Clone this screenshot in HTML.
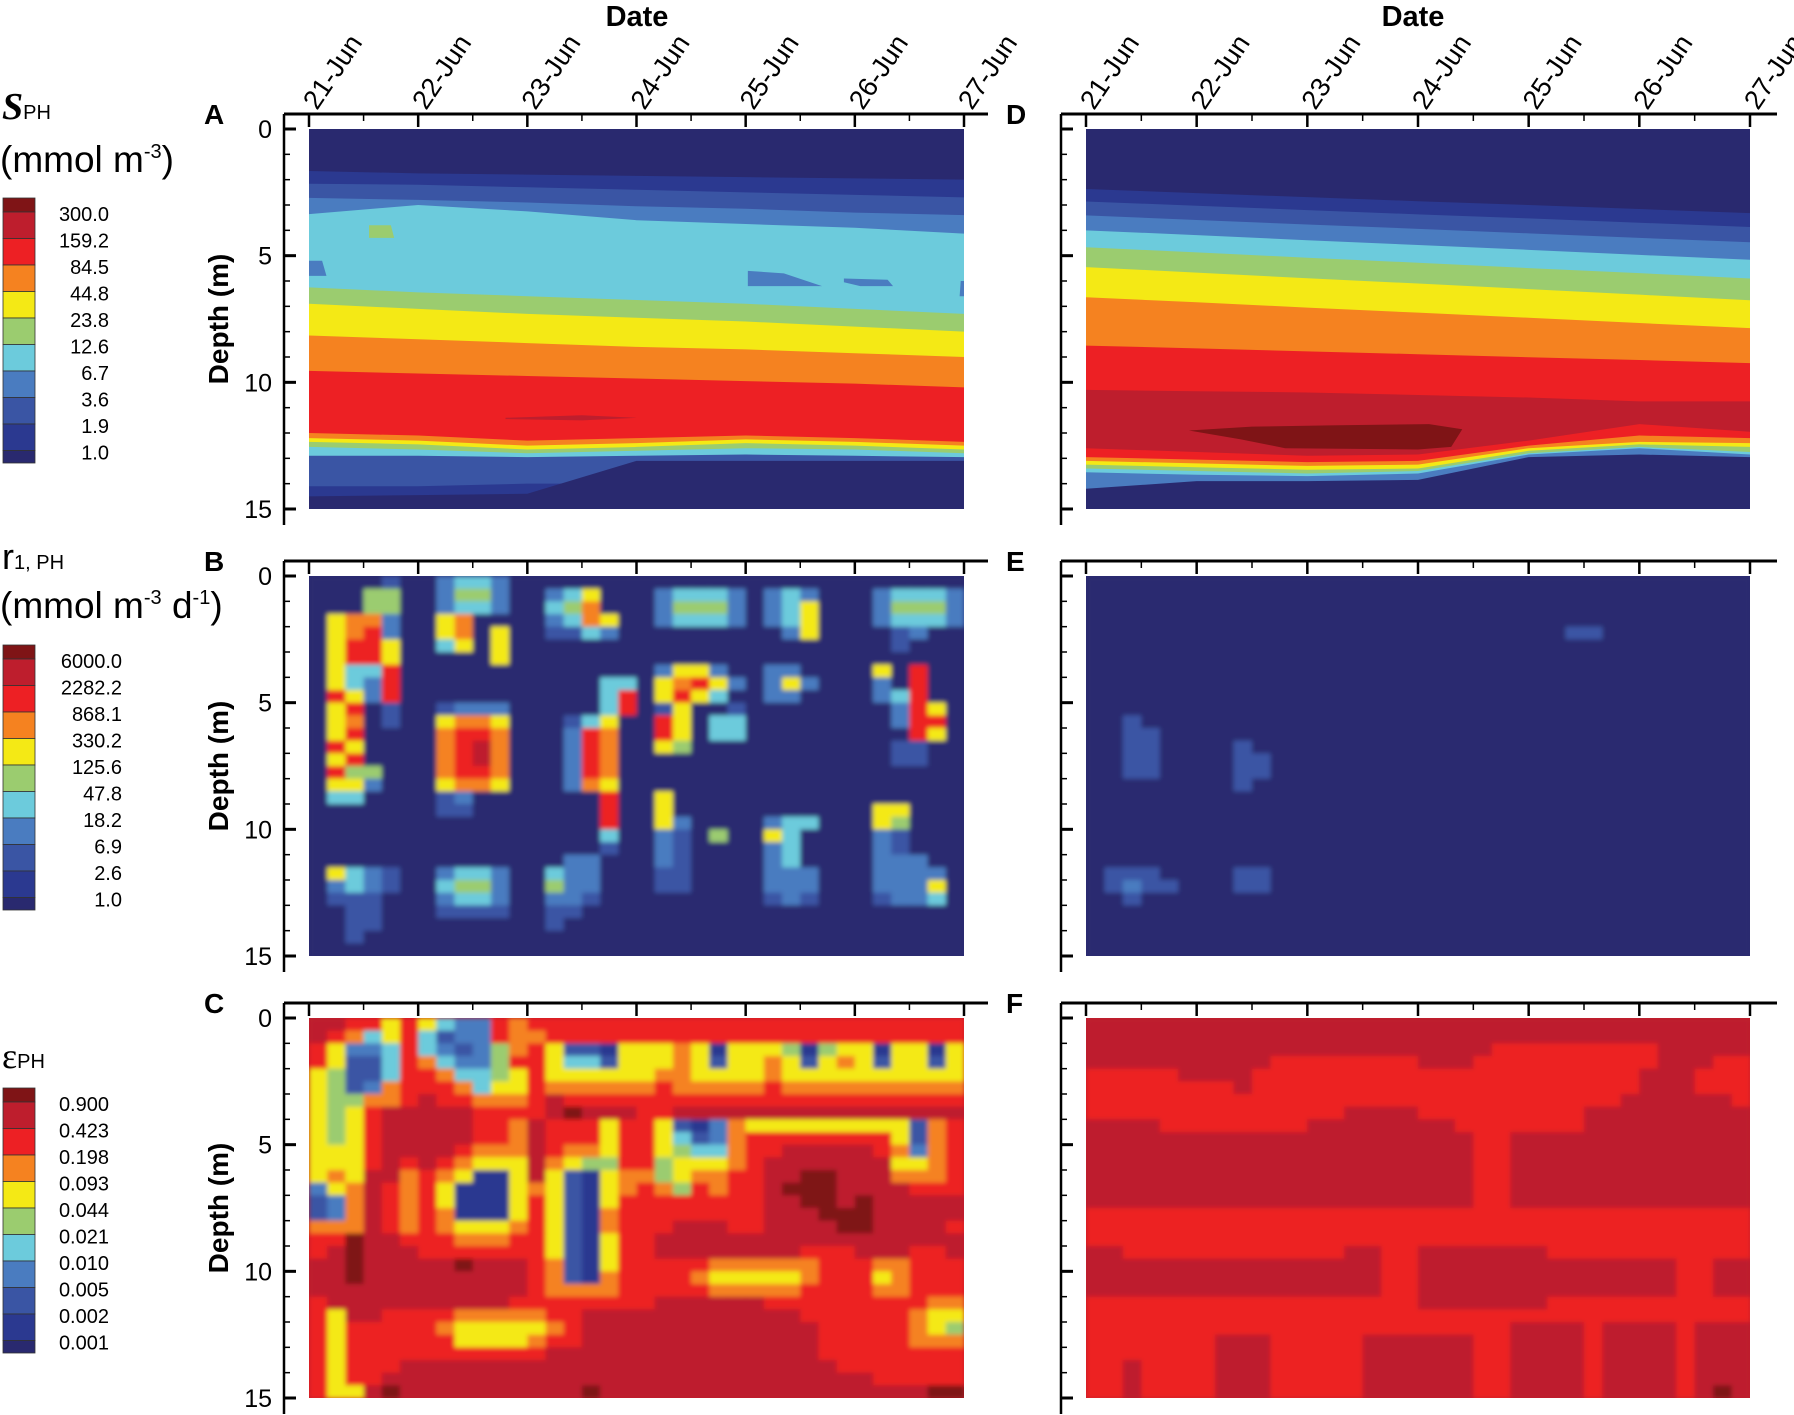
<!DOCTYPE html>
<html><head><meta charset="utf-8"><style>
html,body{margin:0;padding:0;background:#fff;}
svg{display:block;font-family:"Liberation Sans",sans-serif;}
</style></head><body>
<svg id="chart" xmlns="http://www.w3.org/2000/svg" width="1794" height="1415" viewBox="0 0 1794 1415">
<defs id="defs"><filter id="soft" x="-5%" y="-5%" width="110%" height="110%"><feGaussianBlur stdDeviation="2.5"/></filter></defs>
<g id="legends">
<text x="2" y="119" font-family="Liberation Serif,serif" font-weight="bold" font-style="italic" font-size="38">S<tspan font-family="Liberation Sans,sans-serif" font-style="normal" font-weight="normal" font-size="20">PH</tspan></text>
<text x="0" y="172" font-size="37">(mmol m<tspan dy="-14" font-size="20">-3</tspan><tspan dy="14">)</tspan></text>
<text x="2" y="569" font-size="36">r<tspan font-size="20">1, PH</tspan></text>
<text x="0" y="618" font-size="37">(mmol m<tspan dy="-14" font-size="20">-3</tspan><tspan dy="14"> d</tspan><tspan dy="-14" font-size="20">-1</tspan><tspan dy="14">)</tspan></text>
<text x="2" y="1068" font-size="36" font-family="Liberation Serif,serif">ε<tspan font-family="Liberation Sans,sans-serif" font-size="20">PH</tspan></text>
</g>
</svg>
<script>
const palette = ['#29296f','#2b3990','#3a55a4','#4a7cc0','#6ccbdc','#9bcc6f','#f4e915','#f58220','#ed2024','#be1e2d','#7f1416'];
const dayLabels = ['21-Jun','22-Jun','23-Jun','24-Jun','25-Jun','26-Jun','27-Jun'];
const depthTicks = [0,5,10,15];
const legA = ['300.0','159.2','84.5','44.8','23.8','12.6','6.7','3.6','1.9','1.0'];
const legB = ['6000.0','2282.2','868.1','330.2','125.6','47.8','18.2','6.9','2.6','1.0'];
const legC = ['0.900','0.423','0.198','0.093','0.044','0.021','0.010','0.005','0.002','0.001'];

const bandsA = [
 [1,[1.66,1.75,1.8,1.85,1.9,1.95,2.0]],
 [2,[2.16,2.2,2.3,2.4,2.5,2.6,2.7]],
 [3,[2.72,2.8,2.9,3.05,3.15,3.3,3.4]],
 [4,[3.36,3.0,3.25,3.6,3.75,3.9,4.13]],
 [5,[6.25,6.45,6.6,6.75,6.9,7.1,7.3]],
 [6,[6.9,7.1,7.3,7.45,7.6,7.8,8.0]],
 [7,[8.15,8.3,8.45,8.6,8.7,8.85,9.0]],
 [8,[9.55,9.65,9.75,9.85,9.95,10.05,10.2]],
 [7,[12.0,12.1,12.3,12.2,12.1,12.2,12.35]],
 [6,[12.2,12.3,12.5,12.4,12.25,12.35,12.5]],
 [5,[12.35,12.45,12.65,12.55,12.4,12.5,12.65]],
 [4,[12.55,12.65,12.8,12.7,12.6,12.65,12.8]],
 [2,[12.9,12.9,12.95,12.9,12.85,12.9,12.95]],
 [1,[14.1,14.1,14.0,14.0,14.0,14.0,14.5]],
 [0,[14.5,14.45,14.4,13.1,13.1,13.1,13.1]]
];
const patchesA = [
 [5,[[0.55,3.8],[0.75,3.8],[0.78,4.3],[0.55,4.3]]],
 [3,[[0.0,5.2],[0.12,5.2],[0.16,5.8],[0.0,5.8]]],
 [3,[[4.02,5.6],[4.35,5.7],[4.7,6.2],[4.02,6.2]]],
 [3,[[4.9,5.9],[5.3,5.95],[5.35,6.2],[5.05,6.2],[4.9,6.05]]],
 [3,[[5.97,6.0],[6.0,6.0],[6.0,6.6],[5.96,6.6]]],
 [9,[[1.8,11.4],[2.5,11.3],[3.0,11.4],[2.5,11.5],[1.8,11.45]]]
];
const bandsD = [
 [1,[2.37,2.53,2.69,2.85,3.0,3.16,3.32]],
 [2,[2.86,3.03,3.2,3.37,3.53,3.7,3.87]],
 [3,[3.41,3.59,3.77,3.94,4.12,4.3,4.47]],
 [4,[4.0,4.19,4.39,4.58,4.77,4.97,5.16]],
 [5,[4.67,4.87,5.08,5.28,5.49,5.69,5.9]],
 [6,[5.45,5.67,5.89,6.1,6.32,6.54,6.76]],
 [7,[6.64,6.84,7.05,7.25,7.45,7.66,7.86]],
 [8,[8.55,8.66,8.78,8.89,9.01,9.12,9.24]],
 [9,[10.3,10.35,10.4,10.5,10.6,10.75,10.75]],
 [8,[12.6,12.75,12.9,12.85,12.3,11.65,11.95]],
 [7,[12.95,13.05,13.15,13.1,12.5,12.1,12.2]],
 [6,[13.1,13.2,13.3,13.25,12.6,12.35,12.4]],
 [5,[13.25,13.35,13.45,13.4,12.7,12.45,12.55]],
 [4,[13.4,13.5,13.6,13.5,12.8,12.55,12.75]],
 [3,[13.55,13.65,13.7,13.6,12.85,12.6,12.85]],
 [0,[14.2,13.9,13.9,13.85,12.95,12.85,12.95]]
];
const patchesD = [
 [10,[[0.93,11.9],[1.5,11.75],[2.2,11.7],[3.1,11.65],[3.4,11.85],[3.3,12.55],[3.0,12.65],[1.8,12.6],[1.4,12.25]]]
];
const gridB = [
 "000020 034430 000000 000000 000000 000000",
 "000550 035530 034600 034443 034300 034443",
 "000550 034430 045700 035553 034600 035553",
 "067730 067000 034760 034443 034600 034443",
 "067830 067060 022430 000000 003600 002300",
 "068860 046060 000000 000000 000000 002000",
 "068860 000060 000000 000000 000000 000000",
 "064480 000000 000000 036630 033000 060800",
 "064380 000000 000044 067863 036300 030800",
 "086380 000000 000048 068640 033000 034800",
 "068020 023330 000048 026002 000000 003860",
 "067020 067760 002460 086044 000000 003880",
 "068000 078870 003870 086044 000000 000860",
 "086000 078970 003870 065000 000000 002200",
 "068000 078970 003870 000000 000000 002200",
 "085500 078870 003870 000000 000000 000000",
 "066300 067760 003760 000000 000000 000000",
 "044000 023000 000080 060000 000000 000000",
 "000000 022000 000080 060000 000000 066000",
 "000000 000000 000080 063000 034400 065000",
 "000000 000000 000040 032050 064000 032000",
 "000000 000000 000020 032000 034000 032000",
 "000000 000000 003300 032000 034000 033300",
 "064320 034430 043300 022000 033300 033330",
 "034320 045530 053300 022000 033300 033360",
 "022200 034430 033200 000000 023200 023340",
 "002200 022220 022000 000000 000000 000000",
 "002200 000000 020000 000000 000000 000000",
 "002000 000000 000000 000000 000000 000000",
 "000000 000000 000000 000000 000000 000000"
];
const gridC = [
 "998868 643387 888888 888888 888888 888888",
 "987468 423387 788888 888888 888888 888888",
 "863348 432357 862216 667616 665156 616616",
 "862248 743358 864426 667626 676267 626626",
 "652248 874456 866666 677666 676666 666666",
 "652378 887466 877777 787777 787777 777777",
 "655778 988777 898888 888888 888888 888888",
 "656899 999888 89a999 889999 999999 999999",
 "656899 999887 988868 862137 666666 666278",
 "656899 999887 988868 864237 888888 886278",
 "666899 998777 987768 865447 889999 987378",
 "666898 987666 976558 856667 899999 996678",
 "676997 876116 962167 756778 899aa9 997778",
 "367987 861116 762167 875878 89aaa9 999888",
 "237987 861116 862168 888888 899aa9 a99999",
 "237987 871116 862178 888888 8999aa a99999",
 "777987 876667 862178 889998 89999a a99998",
 "88a998 887778 862168 899999 999999 999999",
 "89a999 888888 862168 899999 999888 999889",
 "99a999 99a999 872168 888877 777788 877888",
 "99a999 999999 872178 888766 666788 867888",
 "999999 999999 877778 888877 777888 877888",
 "899999 999998 888888 899999 988888 888877",
 "869988 887777 788999 999999 999888 888766",
 "868888 876666 678999 999999 999988 888765",
 "868888 886666 788999 999999 999988 888777",
 "868888 888888 899999 999999 999988 888888",
 "868889 999999 999999 999999 999998 888888",
 "868899 999999 999999 999999 999999 988888",
 "8669a9 999999 999a99 999999 999999 9999aa"
];
const gridE = [
 "000000 000000 000000 000000 000000 000000",
 "000000 000000 000000 000000 000000 000000",
 "000000 000000 000000 000000 000000 000000",
 "000000 000000 000000 000000 000000 000000",
 "000000 000000 000000 000000 002200 000000",
 "000000 000000 000000 000000 000000 000000",
 "000000 000000 000000 000000 000000 000000",
 "000000 000000 000000 000000 000000 000000",
 "000000 000000 000000 000000 000000 000000",
 "000000 000000 000000 000000 000000 000000",
 "000000 000000 000000 000000 000000 000000",
 "002000 000000 000000 000000 000000 000000",
 "002200 000000 000000 000000 000000 000000",
 "002200 002000 000000 000000 000000 000000",
 "002200 002200 000000 000000 000000 000000",
 "002200 002200 000000 000000 000000 000000",
 "000000 002000 000000 000000 000000 000000",
 "000000 000000 000000 000000 000000 000000",
 "000000 000000 000000 000000 000000 000000",
 "000000 000000 000000 000000 000000 000000",
 "000000 000000 000000 000000 000000 000000",
 "000000 000000 000000 000000 000000 000000",
 "000000 000000 000000 000000 000000 000000",
 "022200 002200 000000 000000 000000 000000",
 "023220 002200 000000 000000 000000 000000",
 "002000 000000 000000 000000 000000 000000",
 "000000 000000 000000 000000 000000 000000",
 "000000 000000 000000 000000 000000 000000",
 "000000 000000 000000 000000 000000 000000",
 "000000 000000 000000 000000 000000 000000"
];
const gridF = [
 "999999 999999 999999 999999 999999 999999",
 "999999 999999 999999 999999 999999 999999",
 "999999 999999 999999 999988 888888 899999",
 "999999 999988 888888 999888 888888 899988",
 "888889 999888 888888 888888 888888 999888",
 "888888 889888 888888 888888 888888 999888",
 "888888 888888 888888 888888 888889 999998",
 "888888 888888 889999 888888 888999 999999",
 "999988 888888 999999 998888 888999 999999",
 "999999 999999 999999 999889 999999 999999",
 "999999 999999 999999 999889 999999 999999",
 "999999 999999 999999 999889 999999 999999",
 "999999 999999 999999 999889 999999 999999",
 "999999 999999 999999 999889 999999 999999",
 "999999 999999 999999 999889 999999 999999",
 "888888 888888 888888 888888 888888 888888",
 "888888 888888 888888 888888 888888 888888",
 "888888 888888 888888 888888 888888 888888",
 "998888 888888 889988 999999 988888 888888",
 "999999 999999 999988 999999 999999 998899",
 "999999 999999 999988 999999 999999 998899",
 "999999 999999 999988 999999 999999 998899",
 "888888 888888 888888 999999 988888 888888",
 "888888 888888 888888 888888 888888 888888",
 "888888 888888 888888 888889 999899 998999",
 "888888 899988 888999 999889 999899 998999",
 "888888 899988 888999 999889 999899 998999",
 "889888 899988 888999 999889 999899 998999",
 "889888 899988 888999 999889 999899 998999",
 "889888 899988 888999 999889 999899 9989a9"
];

const NS = 'http://www.w3.org/2000/svg';
const svg = document.getElementById('chart');
const defs = document.getElementById('defs');
function mk(tag, parent){ const e=document.createElementNS(NS,tag); parent.appendChild(e); return e; }
function lv(ch){ return ch==='a'?10:parseInt(ch,10); }

const cols = [{x0:309,x1:964,ax:284,ar:988},{x0:1086,x1:1750,ax:1061,ar:1777}];
const rows = [{y0:129,y1:509,at:114,ab:525},{y0:576,y1:956,at:561,ab:972},{y0:1018,y1:1398,at:1003,ab:1414}];
const letters = [['A','D'],['B','E'],['C','F']];

function makePanel(ri,ci){
  const c=cols[ci], r=rows[ri];
  const P={x0:c.x0,x1:c.x1,y0:r.y0,y1:r.y1};
  P.x=function(d){return c.x0+d/6*(c.x1-c.x0);};
  P.y=function(z){return r.y0+z/15*(r.y1-r.y0);};
  const cp=mk('clipPath',defs); cp.setAttribute('id','clip'+ri+ci);
  const cr=mk('rect',cp); cr.setAttribute('x',c.x0); cr.setAttribute('y',r.y0); cr.setAttribute('width',c.x1-c.x0); cr.setAttribute('height',r.y1-r.y0);
  const g=mk('g',svg); g.setAttribute('clip-path','url(#clip'+ri+ci+')');
  
  
  P.g=g;
  return P;
}

function drawBands(P,bands,patches,bg){
  const b=mk('rect',P.g); b.setAttribute('x',P.x0); b.setAttribute('y',P.y0); b.setAttribute('width',P.x1-P.x0); b.setAttribute('height',P.y1-P.y0); b.setAttribute('fill',palette[bg]);
  
  
  bands.forEach(function(bd,i){
    const pts=bd[1].map(function(z,k){return P.x(k)+','+P.y(z);});
    pts.push(P.x(6)+','+(P.y1+2)); pts.push(P.x(0)+','+(P.y1+2));
    const p=mk('polygon',P.g); p.setAttribute('points',pts.join(' ')); p.setAttribute('fill',palette[bd[0]]);
    
    
  });
  patches.forEach(function(pt,i){
    const p=mk('polygon',P.g); p.setAttribute('points',pt[1].map(function(q){return P.x(q[0])+','+P.y(q[1]);}).join(' ')); p.setAttribute('fill',palette[pt[0]]);
    
    
  });
}
function drawGrid(P,grid,bg){
  const nC=36,nR=30, cw=(P.x1-P.x0)/nC, ch=(P.y1-P.y0)/nR;
  const b=mk('rect',P.g); b.setAttribute('x',P.x0); b.setAttribute('y',P.y0); b.setAttribute('width',P.x1-P.x0); b.setAttribute('height',P.y1-P.y0); b.setAttribute('fill',palette[bg]);
  
  
  const inner=mk('g',P.g); inner.setAttribute('filter','url(#soft)');
  grid.forEach(function(rowStr,ri){
    let s=rowStr.replace(/ /g,''); while(s.length<nC) s+='0';
    for(let k=0;k<nC;k++){
      const r=mk('rect',inner);
      r.setAttribute('x',P.x(k/6)); r.setAttribute('y',P.y(ri*0.5));
      r.setAttribute('width',cw+0.6); r.setAttribute('height',ch+0.6);
      r.setAttribute('fill',palette[lv(s[k])]);
      
      
    }
  });
}
function drawAxes(ri,ci){
  const c=cols[ci], r=rows[ri];
  const g=mk('g',svg);
  
  
  function line(x1,y1,x2,y2,w){const l=mk('line',g);l.setAttribute('x1',x1);l.setAttribute('y1',y1);l.setAttribute('x2',x2);l.setAttribute('y2',y2);l.setAttribute('stroke','#000');l.setAttribute('stroke-width',w);return l;}
  const tl=line(c.ax,r.at,c.ar,r.at,3);
  
  
  const ll=line(c.ax,r.at,c.ax,r.ab,2.5);
  
  
  for(let h=0;h<=12;h++){
    const x=c.x0+h/12*(c.x1-c.x0);
    line(x,r.at,x,r.at+(h%2===0?13:7),h%2===0?2.5:1.5);
  }
  const yy=function(z){return r.y0+z/15*(r.y1-r.y0);};
  for(let z=0;z<=15;z++){
    const major=(z%5===0);
    line(c.ax,yy(z),c.ax+(major?12:6),yy(z),major?3:1.5);
  }
  const L=mk('text',g); L.textContent=letters[ri][ci];
  L.setAttribute('x',ci===0?204:1006); L.setAttribute('y',r.at+10); L.setAttribute('font-size','28'); L.setAttribute('font-weight','bold');
  
  
  if(ci===0){
    depthTicks.forEach(function(z){
      const t=mk('text',g); t.textContent=String(z);
      t.setAttribute('x',272); t.setAttribute('y',yy(z)+9); t.setAttribute('text-anchor','end'); t.setAttribute('font-size','25');
      
      
    });
    const yl=mk('text',g); yl.textContent='Depth (m)';
    const cy=(r.y0+r.y1)/2;
    yl.setAttribute('x',228); yl.setAttribute('y',cy); yl.setAttribute('text-anchor','middle'); yl.setAttribute('font-size','28'); yl.setAttribute('font-weight','bold');
    yl.setAttribute('transform','rotate(-90 228 '+cy+')');
    
    
  }
  if(ri===0){
    dayLabels.forEach(function(d,k){
      const x=c.x0+k/6*(c.x1-c.x0)+8;
      const t=mk('text',g); t.textContent=d;
      t.setAttribute('x',x); t.setAttribute('y',111); t.setAttribute('font-size','27');
      t.setAttribute('transform','rotate(-56 '+x+' 111)');
      
      
    });
    const dt=mk('text',g); dt.textContent='Date';
    dt.setAttribute('x',ci===0?637:1413); dt.setAttribute('y',26); dt.setAttribute('text-anchor','middle'); dt.setAttribute('font-size','29'); dt.setAttribute('font-weight','bold');
    
    
  }
}
function drawLegend(top,labels,rx,name){
  const g=mk('g',svg);
  
  
  const heights=[14,26.5,26.5,26.5,26.5,26.5,26.5,26.5,26.5,26.5,12.5];
  let y=top;
  for(let i=0;i<11;i++){
    const r=mk('rect',g); r.setAttribute('x',3); r.setAttribute('y',y); r.setAttribute('width',32); r.setAttribute('height',heights[i]);
    r.setAttribute('fill',palette[10-i]); r.setAttribute('stroke','#333'); r.setAttribute('stroke-width','0.8');
    
    
    y+=heights[i];
  }
  labels.forEach(function(lb,i){
    const t=mk('text',g); t.textContent=lb;
    t.setAttribute('x',rx); t.setAttribute('y',top+14+26.5*i+9); t.setAttribute('text-anchor','end'); t.setAttribute('font-size','20');
    
    
  });
}

const PA=makePanel(0,0); drawBands(PA,bandsA,patchesA,0);
const PD=makePanel(0,1); drawBands(PD,bandsD,patchesD,0);
const PB=makePanel(1,0); drawGrid(PB,gridB,0);
const PE=makePanel(1,1); drawGrid(PE,gridE,0);
const PC=makePanel(2,0); drawGrid(PC,gridC,9);
const PF=makePanel(2,1); drawGrid(PF,gridF,9);
for(let ri=0;ri<3;ri++){ for(let ci=0;ci<2;ci++){ drawAxes(ri,ci); } }
drawLegend(198,legA,109,'colorbar-a');
drawLegend(645,legB,122,'colorbar-b');
drawLegend(1088,legC,109,'colorbar-c');
</script>
</body></html>
